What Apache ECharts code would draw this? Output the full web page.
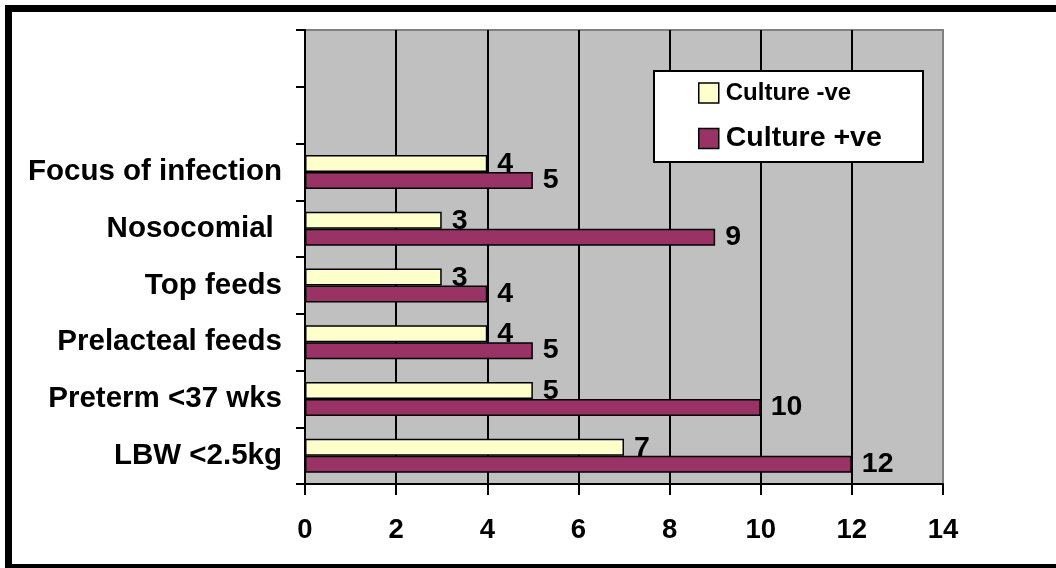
<!DOCTYPE html>
<html>
<head>
<meta charset="utf-8">
<script src="https://cdn.jsdelivr.net/npm/echarts@6/dist/echarts.min.js"></script>
<style>
  html, body { margin: 0; padding: 0; background: #fff; }
  #chart { width: 1056px; height: 568px; }
</style>
</head>
<body>
<div id="chart"></div>
<script>
// Risk factors, bottom to top; the two top rows are left empty
const categories = ['LBW <2.5kg', 'Preterm <37 wks', 'Prelacteal feeds', 'Top feeds', 'Nosocomial ', 'Focus of infection', '', ''];
const cultureNegative = [7, 5, 4, 3, 3, 4, null, null];
const culturePositive = [12, 10, 5, 4, 9, 5, null, null];
const seriesNames = ['Culture -ve', 'Culture +ve'];
const xTicks = { min: 0, max: 14, interval: 2 };

const FONT = '"Liberation Sans", Arial, sans-serif';
const chart = echarts.init(document.getElementById('chart'), null, { renderer: 'canvas' });

function barLabel(dy) {
  return {
    show: true,
    position: 'right',
    distance: 10,
    offset: [0, dy],
    color: '#000',
    fontFamily: FONT,
    fontWeight: 'bold',
    fontSize: 28.5
  };
}

chart.setOption({
  animation: false,
  backgroundColor: '#fff',
  textStyle: { fontFamily: FONT },
  graphic: [
    // page frame
    { type: 'rect', z: 100, silent: true,
      shape: { x: 8.5, y: 8.5, width: 1060, height: 559 },
      style: { fill: null, stroke: '#000', lineWidth: 7 } },
    // legend box
    { type: 'rect', z: 10, silent: true,
      shape: { x: 654, y: 71, width: 269, height: 91 },
      style: { fill: '#fff', stroke: '#000', lineWidth: 2 } }
  ],
  grid: {
    left: 305, right: 113, top: 30, bottom: 84,
    show: true,
    backgroundColor: '#c0c0c0',
    borderColor: '#808080',
    borderWidth: 2
  },
  legend: [
    {
      data: [seriesNames[0]], orient: 'vertical', left: 698, top: 81, padding: 0,
      itemWidth: 20, itemHeight: 20, z: 11,
      icon: 'rect',
      itemStyle: { borderColor: '#000', borderWidth: 1.5 },
      textStyle: { color: '#000', fontFamily: FONT, fontWeight: 'bold', fontSize: 24, padding: [0, 0, 0, 2] }
    },
    {
      data: [seriesNames[1]], orient: 'vertical', left: 698, top: 124, padding: 0,
      itemWidth: 20, itemHeight: 20, z: 11,
      icon: 'rect',
      itemStyle: { borderColor: '#000', borderWidth: 1.5 },
      textStyle: { color: '#000', fontFamily: FONT, fontWeight: 'bold', fontSize: 28.5, padding: [0, 0, 0, 2] }
    }
  ],
  xAxis: {
    type: 'value',
    min: xTicks.min, max: xTicks.max, interval: xTicks.interval,
    axisLine: { show: true, lineStyle: { color: '#000', width: 2 } },
    axisTick: { show: true, length: 11, lineStyle: { color: '#000', width: 2 } },
    axisLabel: { margin: 32, color: '#000', fontFamily: FONT, fontWeight: 'bold', fontSize: 27.5 },
    splitLine: { show: true, showMinLine: false, showMaxLine: false, lineStyle: { color: '#000', width: 2 } }
  },
  yAxis: {
    type: 'category',
    data: categories,
    axisLine: { show: true, lineStyle: { color: '#000', width: 2 } },
    axisTick: { show: true, length: 9, alignWithLabel: false, lineStyle: { color: '#000', width: 2 } },
    axisLabel: { margin: 23, color: '#000', fontFamily: FONT, fontWeight: 'bold', fontSize: 29.5, interval: 0 },
    splitLine: { show: false }
  },
  series: [
    {
      name: seriesNames[0], type: 'bar', data: cultureNegative,
      barWidth: 17, barGap: '0%', z: 2,
      itemStyle: { color: '#ffffcc', borderColor: '#000', borderWidth: 1.5 },
      label: barLabel(1)
    },
    {
      name: seriesNames[1], type: 'bar', data: culturePositive,
      barWidth: 17, barGap: '0%', z: 3,
      itemStyle: { color: '#993366', borderColor: '#000', borderWidth: 1.5 },
      label: barLabel(0)
    }
  ]
});
</script>
</body>
</html>
